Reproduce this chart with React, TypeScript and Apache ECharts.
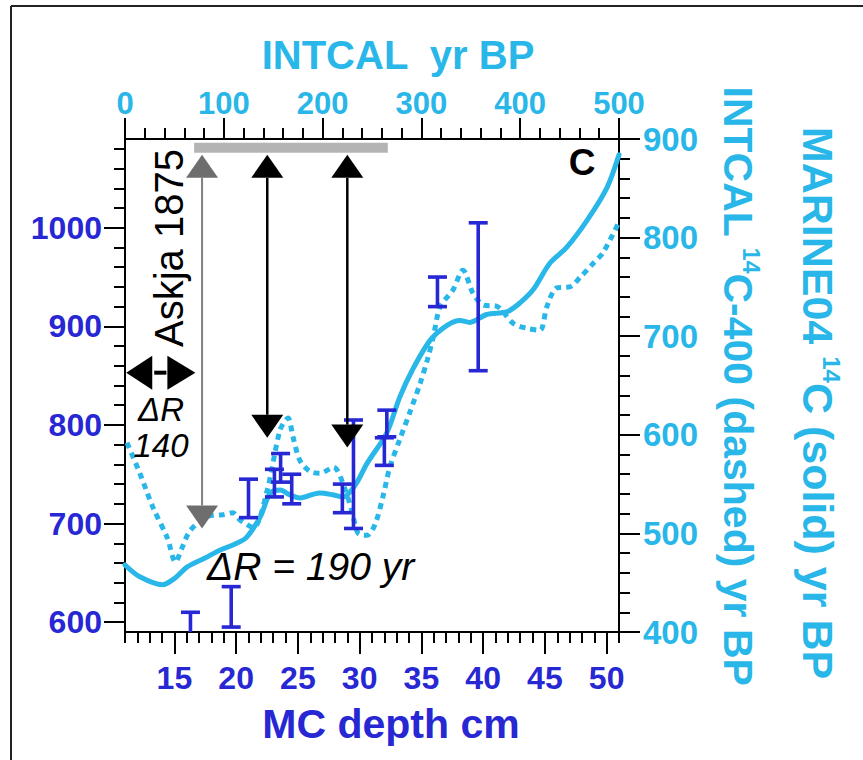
import { useEffect, useRef } from 'react';
import * as echarts from 'echarts';

const FONT = '"Liberation Sans", Arial, Helvetica, sans-serif';
const CYAN = '#29B6E8';
const BLUE = '#2727D3';
const INK = '#000000';

// Bottom axis: MC depth (cm)
const depthMin = 11;
const depthMax = 51;
const depthLabelTicks = [15, 20, 25, 30, 35, 40, 45, 50];
const depthMinorTicks = [11, 12, 13, 14, 15, 16, 17, 18, 19, 20, 21, 22, 23, 24, 25, 26, 27, 28, 29, 30, 31, 32, 33, 34, 35, 36, 37, 38, 39, 40, 41, 42, 43, 44, 45, 46, 47, 48, 49, 50, 51];

// Left axis: measured 14C age (yr BP)
const leftMin = 590;
const leftMax = 1090;
const leftLabelTicks = [600, 700, 800, 900, 1000];
const leftMinorTicks = [600, 620, 640, 660, 680, 700, 720, 740, 760, 780, 800, 820, 840, 860, 880, 900, 920, 940, 960, 980, 1000, 1020, 1040, 1060, 1080];

// Top axis: INTCAL yr BP
const topMin = 0;
const topMax = 500;
const topInterval = 100;

// Right axis: 14C yr BP
const rightMin = 400;
const rightMax = 900;
const rightInterval = 100;

// MARINE04 14C (solid), against INTCAL yr BP
const marineYr = [0, 15, 38, 51, 63, 81, 96, 111, 123, 137, 147, 157, 167, 177, 197, 211, 221, 233, 245, 265, 278, 291, 309, 326, 339, 349, 366, 387, 400, 413, 430, 447, 468, 488, 500];
const marineAge = [468, 456, 448, 455, 466, 475, 483, 489, 496, 517, 541, 544, 539, 536, 541, 539, 537, 549, 571, 602, 638, 666, 696, 711, 716, 714, 722, 725, 734, 747, 774, 790, 818, 851, 884];

// INTCAL 14C - 400 (dashed), against INTCAL yr BP
const intcalYr = [2, 15, 28, 43, 51, 58, 66, 83, 99, 109, 116, 130, 144, 157, 165, 170, 177, 187, 197, 211, 223, 230, 236, 245, 253, 261, 268, 278, 288, 299, 306, 312, 319, 332, 342, 352, 362, 377, 393, 407, 420, 427, 437, 450, 461, 474, 484, 500];
const intcalAge = [592, 561, 527, 495, 471, 486, 503, 517, 519, 521, 514, 506, 544, 605, 617, 598, 574, 563, 561, 567, 544, 521, 500, 498, 509, 537, 567, 595, 622, 653, 676, 699, 730, 747, 767, 744, 732, 730, 713, 708, 706, 730, 749, 750, 760, 774, 785, 816];

// Dated samples (MC depth cm, 14C age range on left axis)
const sampleDepth = [16.3, 19.6, 21.0, 23.1, 23.6, 24.5, 28.6, 29.5, 32.0, 32.2, 36.3, 39.6];
const sampleLow = [575, 595, 706, 727, 742, 720, 711, 695, 759, 788, 920, 855];
const sampleHigh = [610, 636, 745, 755, 771, 750, 740, 805, 787, 815, 950, 1005];

// Annotation arrows (INTCAL yr BP, top and bottom on right axis)
const arrowYr = [78, 144, 225];
const arrowTop = [884, 884, 884];
const arrowBottom = [505, 597, 587];
const arrowGray = [1, 0, 0];

// Askja 1875 bar
const askjaBarYr = [70, 266];
const askjaBarAge = 891;

// Delta R 140 double arrow (depth range, left axis value)
const dRArrowDepth = [11.1, 16.7];
const dRArrowAge = 853;

function buildOption() {
  const marineData = marineYr.map((x, i) => [x, marineAge[i]]);
  const intcalData = intcalYr.map((x, i) => [x, intcalAge[i]]);
  const sampleData = sampleDepth.map((d, i) => [d, sampleLow[i], sampleHigh[i]]);
  const arrowData = arrowYr.map((x, i) => [x, arrowTop[i], arrowBottom[i], arrowGray[i]]);

  const noSplit = { show: false };
  const blackLine = { show: true, onZero: false, lineStyle: { color: INK, width: 2 } };
  const hiddenLine = { show: false, onZero: false };
  const plain = (v: number) => String(v);

  return {
    animation: false,
    backgroundColor: '#ffffff',
    grid: { left: 125, top: 139, width: 494, height: 493, containLabel: false },
    xAxis: [
      {
        type: 'value', position: 'bottom', min: depthMin, max: depthMax,
        axisLine: blackLine, splitLine: noSplit,
        axisTick: { show: true, customValues: depthLabelTicks, length: 22, lineStyle: { color: INK, width: 2 } },
        axisLabel: { show: true, customValues: depthLabelTicks, formatter: plain, margin: 30, color: BLUE, fontSize: 32, fontWeight: 'bold', fontFamily: FONT },
      },
      {
        type: 'value', position: 'bottom', min: depthMin, max: depthMax,
        axisLine: hiddenLine, splitLine: noSplit,
        axisTick: { show: true, customValues: depthMinorTicks, length: 11, lineStyle: { color: INK, width: 2 } },
        axisLabel: { show: false },
      },
      {
        type: 'value', position: 'top', min: topMin, max: topMax, interval: topInterval,
        axisLine: blackLine, splitLine: noSplit,
        axisTick: { show: true, length: 21, lineStyle: { color: INK, width: 2 } },
        minorTick: { show: true, splitNumber: 5, length: 11, lineStyle: { color: INK, width: 2 } },
        minorSplitLine: { show: false },
        axisLabel: { show: true, formatter: plain, margin: 20, color: CYAN, fontSize: 31, fontWeight: 'bold', fontFamily: FONT, showMinLabel: true, showMaxLabel: true },
      },
    ],
    yAxis: [
      {
        type: 'value', position: 'left', min: leftMin, max: leftMax,
        axisLine: blackLine, splitLine: noSplit,
        axisTick: { show: true, customValues: leftLabelTicks, length: 21, lineStyle: { color: INK, width: 2 } },
        axisLabel: { show: true, customValues: leftLabelTicks, formatter: plain, margin: 23, color: BLUE, fontSize: 32, fontWeight: 'bold', fontFamily: FONT },
      },
      {
        type: 'value', position: 'left', min: leftMin, max: leftMax,
        axisLine: hiddenLine, splitLine: noSplit,
        axisTick: { show: true, customValues: leftMinorTicks, length: 11, lineStyle: { color: INK, width: 2 } },
        axisLabel: { show: false },
      },
      {
        type: 'value', position: 'right', min: rightMin, max: rightMax, interval: rightInterval,
        axisLine: blackLine, splitLine: noSplit,
        axisTick: { show: true, length: 21, lineStyle: { color: INK, width: 2 } },
        minorTick: { show: true, splitNumber: 5, length: 11, lineStyle: { color: INK, width: 2 } },
        minorSplitLine: { show: false },
        axisLabel: { show: true, formatter: plain, margin: 24, color: CYAN, fontSize: 33, fontWeight: 'bold', fontFamily: FONT, showMinLabel: true, showMaxLabel: true },
      },
    ],
    series: [
      {
        name: 'Askja bar', type: 'custom', xAxisIndex: 2, yAxisIndex: 2, silent: true, z: 3,
        data: [[askjaBarYr[0], askjaBarYr[1], askjaBarAge]],
        encode: { x: [0, 1], y: 2 },
        renderItem: (_p: any, api: any) => {
          const a = api.coord([api.value(0), api.value(2)]);
          const b = api.coord([api.value(1), api.value(2)]);
          return { type: 'rect', shape: { x: a[0], y: a[1] - 5, width: b[0] - a[0], height: 10 }, style: { fill: '#B4B4B4' } };
        },
      },
      {
        name: 'INTCAL 14C-400', type: 'line', xAxisIndex: 2, yAxisIndex: 2, data: intcalData,
        showSymbol: false, smooth: 0.3, z: 4,
        lineStyle: { color: CYAN, width: 5, type: [6, 5], cap: 'butt' },
      },
      {
        name: 'MARINE04 14C', type: 'line', xAxisIndex: 2, yAxisIndex: 2, data: marineData,
        showSymbol: false, smooth: 0.3, z: 5,
        lineStyle: { color: CYAN, width: 5, cap: 'round' },
      },
      {
        name: 'samples', type: 'custom', xAxisIndex: 0, yAxisIndex: 0, data: sampleData, clip: true, z: 6,
        encode: { x: 0, y: [1, 2] },
        renderItem: (_p: any, api: any) => {
          const lo = api.coord([api.value(0), api.value(1)]);
          const hi = api.coord([api.value(0), api.value(2)]);
          const w = 9.5;
          const st = { stroke: BLUE, lineWidth: 3.6, fill: 'none' };
          return {
            type: 'group',
            children: [
              { type: 'line', shape: { x1: lo[0], y1: lo[1], x2: hi[0], y2: hi[1] }, style: st },
              { type: 'line', shape: { x1: hi[0] - w, y1: hi[1], x2: hi[0] + w, y2: hi[1] }, style: st },
              { type: 'line', shape: { x1: lo[0] - w, y1: lo[1], x2: lo[0] + w, y2: lo[1] }, style: st },
            ],
          };
        },
      },
      {
        name: 'arrows', type: 'custom', xAxisIndex: 2, yAxisIndex: 2, data: arrowData, silent: true, z: 7,
        encode: { x: 0, y: [1, 2] },
        renderItem: (_p: any, api: any) => {
          const gray = api.value(3) === 1;
          const fill = gray ? '#6E6E6E' : INK;
          const stroke = gray ? '#808080' : INK;
          const p1 = api.coord([api.value(0), api.value(1)]);
          const p2 = api.coord([api.value(0), api.value(2)]);
          const hw = 16;
          const h = 23;
          return {
            type: 'group',
            children: [
              { type: 'line', shape: { x1: p1[0], y1: p1[1] + h, x2: p2[0], y2: p2[1] - h }, style: { stroke, lineWidth: gray ? 2 : 2.5 } },
              { type: 'polygon', shape: { points: [[p1[0], p1[1]], [p1[0] - hw, p1[1] + h], [p1[0] + hw, p1[1] + h]] }, style: { fill } },
              { type: 'polygon', shape: { points: [[p2[0], p2[1]], [p2[0] - hw, p2[1] - h], [p2[0] + hw, p2[1] - h]] }, style: { fill } },
            ],
          };
        },
      },
      {
        name: 'dR arrow', type: 'custom', xAxisIndex: 0, yAxisIndex: 0, silent: true, z: 7,
        data: [[dRArrowDepth[0], dRArrowDepth[1], dRArrowAge]],
        encode: { x: [0, 1], y: 2 },
        renderItem: (_p: any, api: any) => {
          const a = api.coord([api.value(0), api.value(2)]);
          const b = api.coord([api.value(1), api.value(2)]);
          const hh = 17;
          return {
            type: 'group',
            children: [
              { type: 'polygon', shape: { points: [[a[0], a[1]], [a[0] + 26, a[1] - hh], [a[0] + 26, a[1] + hh]] }, style: { fill: INK } },
              { type: 'polygon', shape: { points: [[b[0], b[1]], [b[0] - 28, b[1] - hh], [b[0] - 28, b[1] + hh]] }, style: { fill: INK } },
              { type: 'line', shape: { x1: a[0] + 28, y1: a[1], x2: b[0] - 29, y2: b[1] }, style: { stroke: INK, lineWidth: 4 } },
            ],
          };
        },
      },
    ],
    graphic: [
      { type: 'line', shape: { x1: 11, y1: 6, x2: 863, y2: 6 }, style: { stroke: '#222', lineWidth: 2 }, silent: true },
      { type: 'line', shape: { x1: 11, y1: 6, x2: 11, y2: 760 }, style: { stroke: '#222', lineWidth: 2 }, silent: true },
      {
        type: 'text', x: 398, y: 55,
        style: { text: 'INTCAL  yr BP', fill: CYAN, fontSize: 40, fontWeight: 'bold', fontFamily: FONT, align: 'center', verticalAlign: 'middle', textAlign: 'center', textVerticalAlign: 'middle' },
      },
      {
        type: 'text', x: 391, y: 724,
        style: { text: 'MC depth cm', fill: BLUE, fontSize: 41, fontWeight: 'bold', fontFamily: FONT, align: 'center', verticalAlign: 'middle', textAlign: 'center', textVerticalAlign: 'middle' },
      },
      {
        type: 'text', x: 740, y: 386, rotation: -Math.PI / 2,
        style: {
          text: '{m|INTCAL }{s|14}{m|C-400 (dashed) yr BP}',
          rich: {
            m: { fill: CYAN, fontSize: 41, fontWeight: 'bold', fontFamily: FONT, lineHeight: 45, verticalAlign: 'bottom' },
            s: { fill: CYAN, fontSize: 23, fontWeight: 'bold', fontFamily: FONT, verticalAlign: 'top' },
          },
          fill: CYAN, fontSize: 41, fontWeight: 'bold', fontFamily: FONT,
          align: 'center', verticalAlign: 'middle', textAlign: 'center', textVerticalAlign: 'middle',
        },
      },
      {
        type: 'text', x: 820, y: 403, rotation: -Math.PI / 2,
        style: {
          text: '{m|MARINE04 }{s|14}{m|C (solid) yr BP}',
          rich: {
            m: { fill: CYAN, fontSize: 43, fontWeight: 'bold', fontFamily: FONT, lineHeight: 47, verticalAlign: 'bottom' },
            s: { fill: CYAN, fontSize: 24, fontWeight: 'bold', fontFamily: FONT, verticalAlign: 'top' },
          },
          fill: CYAN, fontSize: 43, fontWeight: 'bold', fontFamily: FONT,
          align: 'center', verticalAlign: 'middle', textAlign: 'center', textVerticalAlign: 'middle',
        },
      },
      {
        type: 'text', x: 169, y: 248, rotation: Math.PI / 2, z: 10,
        style: { text: 'Askja 1875', fill: INK, fontSize: 40, fontFamily: FONT, align: 'center', verticalAlign: 'middle', textAlign: 'center', textVerticalAlign: 'middle' },
      },
      {
        type: 'text', x: 161, y: 409, z: 10,
        style: { text: 'ΔR', fill: INK, fontSize: 33, fontStyle: 'italic', fontFamily: FONT, align: 'center', verticalAlign: 'middle', textAlign: 'center', textVerticalAlign: 'middle' },
      },
      {
        type: 'text', x: 161, y: 445, z: 10,
        style: { text: '140', fill: INK, fontSize: 33, fontStyle: 'italic', fontFamily: FONT, align: 'center', verticalAlign: 'middle', textAlign: 'center', textVerticalAlign: 'middle' },
      },
      {
        type: 'text', x: 207, y: 566, z: 10,
        style: { text: 'ΔR = 190 yr', fill: INK, fontSize: 39, fontStyle: 'italic', fontFamily: FONT, align: 'left', verticalAlign: 'middle', textAlign: 'left', textVerticalAlign: 'middle' },
      },
      {
        type: 'text', x: 582, y: 162, z: 10,
        style: { text: 'C', fill: INK, fontSize: 37, fontWeight: 'bold', fontFamily: FONT, align: 'center', verticalAlign: 'middle', textAlign: 'center', textVerticalAlign: 'middle' },
      },
    ],
  };
}

export default function App() {
  const ref = useRef<HTMLDivElement>(null);
  useEffect(() => {
    if (!ref.current) return;
    const chart = echarts.init(ref.current, null, { renderer: 'svg' });
    chart.setOption(buildOption() as any);
    return () => chart.dispose();
  }, []);
  return (
    <div
      ref={ref}
      style={{ position: 'fixed', left: 0, top: 0, width: 863, height: 760, background: '#ffffff' }}
    />
  );
}
